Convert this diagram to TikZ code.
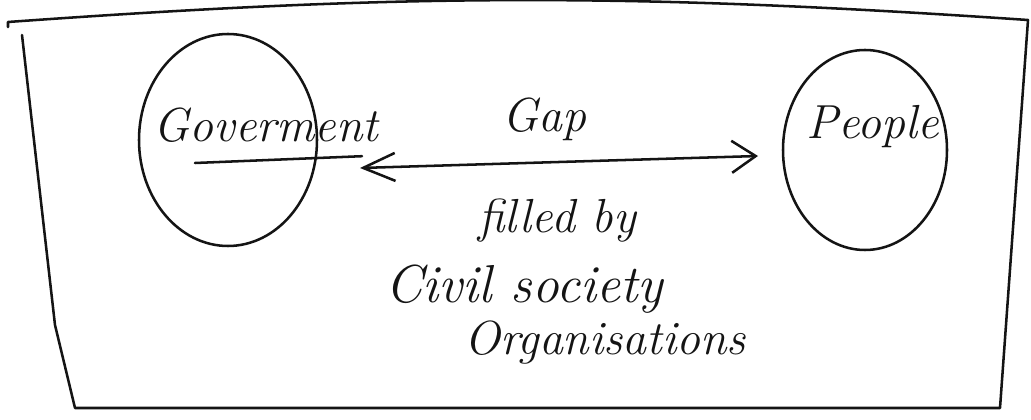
\documentclass[tikz,border=0pt]{standalone}
\usepackage{tikz}
\usetikzlibrary{arrows.meta,positioning,shapes.geometric}
\definecolor{ink}{HTML}{141414}
\tikzset{
  pen/.style={draw=ink,line width=1.8pt,line cap=round,line join=round},
  party/.style={pen,ellipse,inner sep=0pt},
  hand/.style={text=ink,font=\fontsize{34}{40}\selectfont\itshape,inner sep=1pt},
  gaparrow/.style={pen,{Straight Barb[length=8mm,width=7mm]}-{Straight Barb[length=6mm,width=8mm]}}
}
\begin{document}
\begin{tikzpicture}
\useasboundingbox (0,0) rectangle (25.775,10.475);
% frame
\draw[pen] (0.2,9.8) -- (0.2,9.925) to[bend left=4] (25.7,9.975) -- (25.0,0.275)
  -- (1.875,0.275) -- (1.375,2.35) -- (0.55,9.6);
% the two sides
\node[party,minimum width=4.45cm,minimum height=5.3cm] (gov) at (5.7,6.975) {};
\node[party,minimum width=4.1cm,minimum height=5.0cm] (ppl) at (21.625,6.725) {};
\node[hand] (govtxt) at (6.65,7.35) {Goverment};
\node[hand] (ppltxt) at (21.825,7.3) {People};
\coordinate (ulA) at (4.875,6.4);
\coordinate (ulB) at (9.05,6.57);
\draw[pen] (ulA) -- (ulB);
% gap between them
\coordinate (gapL) at (9.0,6.275);
\coordinate (gapR) at (18.95,6.575);
\draw[gaparrow] (gapL) -- (gapR);
\node[hand] (gap) at (13.6,7.5) {Gap};
\node[hand] (fill) at (13.925,4.95) {filled by};
\node[hand,font=\fontsize{38}{44}\selectfont\itshape] (cso) at (13.1,3.25) {Civil society};
\node[hand] (org) at (15.125,1.9) {Organisations};
\end{tikzpicture}
\end{document}
